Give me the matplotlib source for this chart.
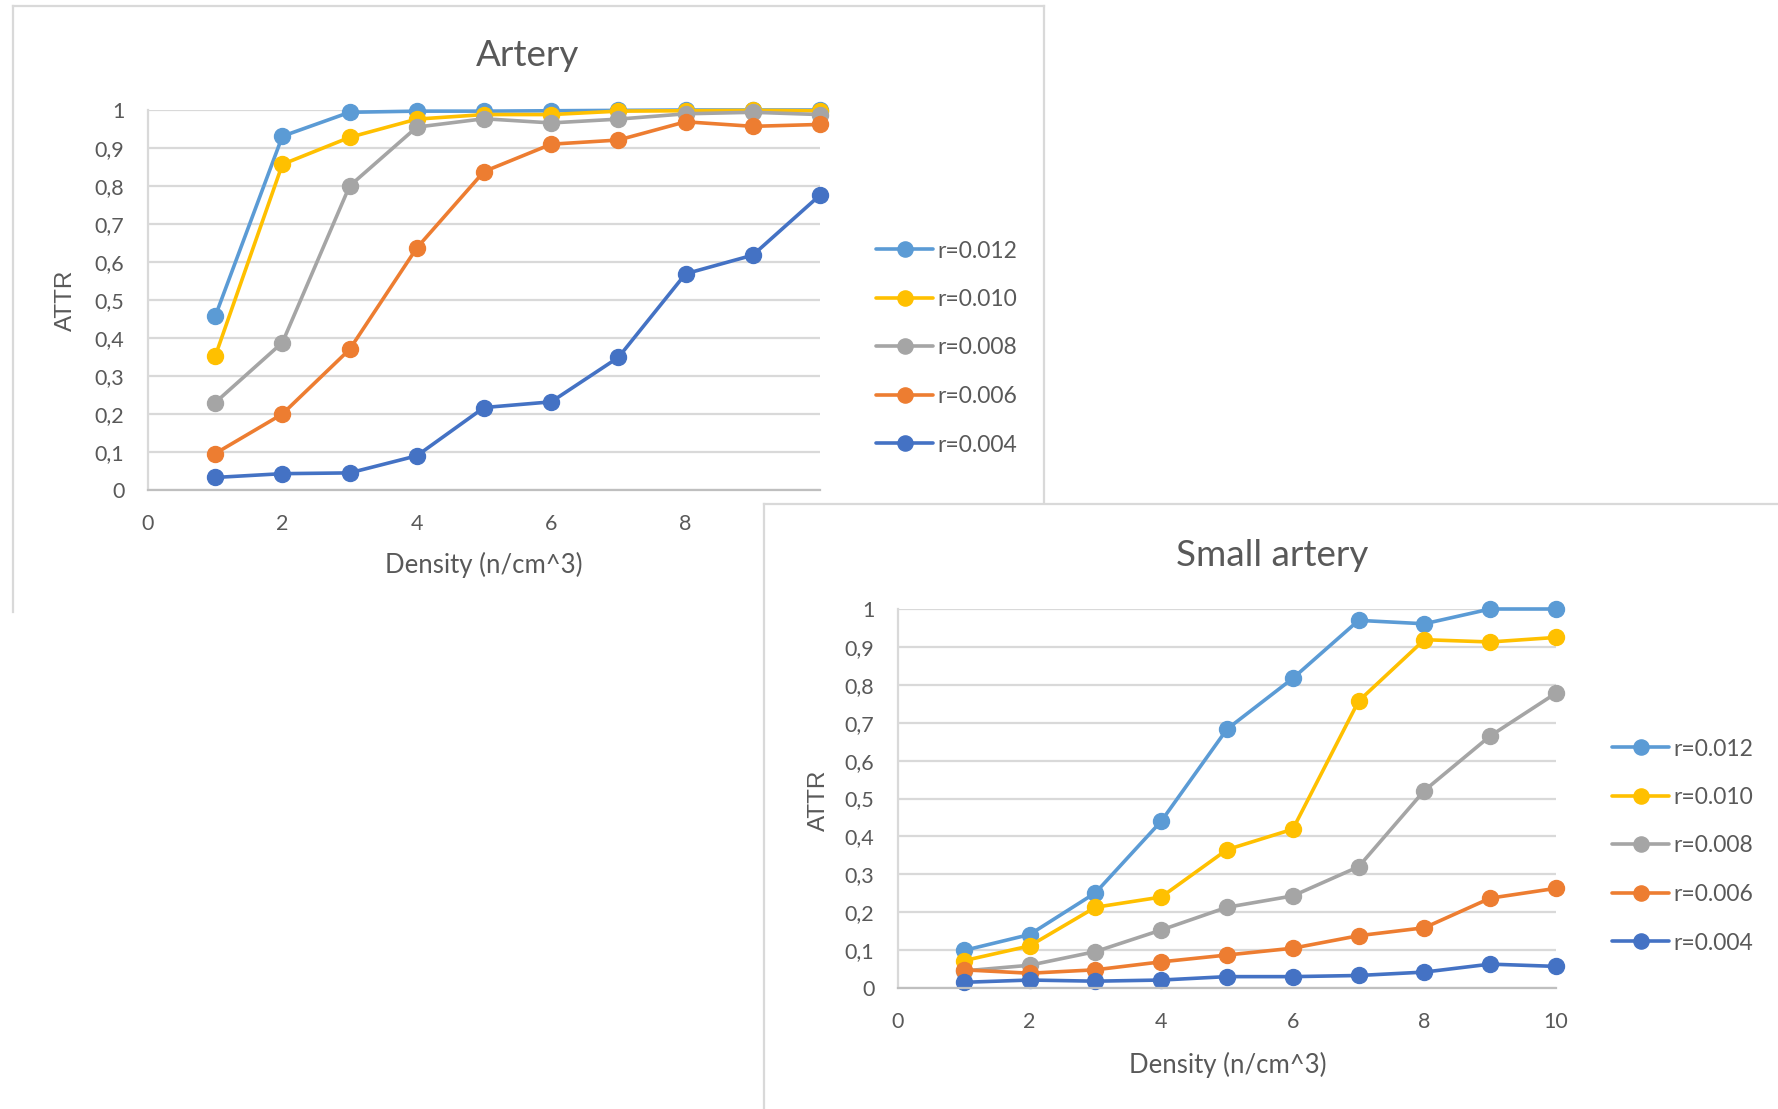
import matplotlib
matplotlib.use('Agg')
import matplotlib.pyplot as plt
from matplotlib.lines import Line2D
from matplotlib.patches import Rectangle
from matplotlib.ticker import FuncFormatter, MultipleLocator

density = [1, 2, 3, 4, 5, 6, 7, 8, 9, 10]
labels = ['r=0.012', 'r=0.010', 'r=0.008', 'r=0.006', 'r=0.004']
colors = ['#5B9BD5', '#FFC000', '#A5A5A5', '#ED7D31', '#4472C4']

# ATTR vs density, artery
artery_012 = [0.457, 0.931, 0.994, 0.997, 0.997, 0.998, 0.999, 1.0, 1.0, 1.0]
artery_010 = [0.352, 0.857, 0.928, 0.976, 0.988, 0.988, 0.997, 0.998, 0.999, 0.998]
artery_008 = [0.23, 0.388, 0.8, 0.955, 0.977, 0.966, 0.976, 0.99, 0.994, 0.988]
artery_006 = [0.096, 0.2, 0.37, 0.637, 0.838, 0.91, 0.921, 0.969, 0.957, 0.962]
artery_004 = [0.033, 0.043, 0.045, 0.09, 0.217, 0.232, 0.349, 0.569, 0.618, 0.776]

# ATTR vs density, small artery
small_012 = [0.099, 0.141, 0.251, 0.44, 0.683, 0.817, 0.97, 0.961, 1.0, 1.0]
small_010 = [0.072, 0.111, 0.213, 0.24, 0.365, 0.419, 0.757, 0.919, 0.913, 0.925]
small_008 = [0.045, 0.06, 0.096, 0.153, 0.213, 0.243, 0.32, 0.521, 0.665, 0.778]
small_006 = [0.048, 0.039, 0.048, 0.069, 0.087, 0.105, 0.138, 0.159, 0.237, 0.263]
small_004 = [0.015, 0.021, 0.018, 0.021, 0.03, 0.03, 0.033, 0.042, 0.063, 0.057]

W, H = 1778, 1109
FONT = 'Lato'
TXT = '#595959'

fig = plt.figure(figsize=(W / 100, H / 100), dpi=100)


def fx(px):
    return px / W


def fy(py):
    return 1 - py / H


def comma(v, pos):
    return ('%g' % round(v, 2)).replace('.', ',')


def draw_chart(rect, series, title, title_xy, xlabel_xy, ylabel_xy, legend_xy, z):
    ax = fig.add_axes(rect, zorder=z)
    for vals, lab, col in zip(series, labels, colors):
        ax.plot(density, vals, color=col, lw=2.6, marker='o', ms=11.5,
                label=lab, clip_on=False, solid_capstyle='round')
    ax.set_xlim(0, 10)
    ax.set_ylim(0, 1)
    ax.xaxis.set_major_locator(MultipleLocator(2))
    ax.yaxis.set_major_locator(MultipleLocator(0.1))
    ax.yaxis.set_major_formatter(FuncFormatter(comma))
    ax.grid(axis='y', color='#D9D9D9', lw=1.6)
    ax.set_axisbelow(True)
    for s in ['top', 'right']:
        ax.spines[s].set_visible(False)
    ax.spines['left'].set_color('#D9D9D9')
    ax.spines['left'].set_linewidth(1.6)
    ax.spines['bottom'].set_color('#BFBFBF')
    ax.spines['bottom'].set_linewidth(1.6)
    ax.tick_params(length=0, pad=17, labelsize=15.5, labelcolor=TXT)
    for t in ax.get_xticklabels() + ax.get_yticklabels():
        t.set_family(FONT)
    fig.text(fx(title_xy[0]), fy(title_xy[1]), title, ha='center', va='baseline',
             fontsize=26.5, color=TXT, family=FONT, zorder=z)
    fig.text(fx(xlabel_xy[0]), fy(xlabel_xy[1]), 'Density (n/cm^3)', ha='center',
             va='baseline', fontsize=18.5, color=TXT, family=FONT, zorder=z)
    fig.text(fx(ylabel_xy[0]), fy(ylabel_xy[1]), 'ATTR', ha='center', va='center',
             rotation=90, fontsize=17.5, color=TXT, family='Liberation Sans', zorder=z)
    leg = ax.legend(loc='center left', bbox_to_anchor=(fx(legend_xy[0]), fy(legend_xy[1])),
                    bbox_transform=fig.transFigure, frameon=False, fontsize=16.5,
                    handlelength=2.45, handletextpad=0.2, labelspacing=1.2,
                    borderpad=0, markerscale=0.95)
    for t in leg.get_texts():
        t.set_color(TXT)
        t.set_family(FONT)
    return ax


# Artery chart
draw_chart([fx(148), fy(490), fx(820) - fx(148), fy(110) - fy(490)],
           [artery_012, artery_010, artery_008, artery_006, artery_004],
           'Artery', (528, 66), (484, 573), (66, 300), (865, 348), 1)
for seg in [((13, 13), (6, 612)), ((13, 1044), (6, 6)), ((1044, 1044), (6, 504))]:
    fig.add_artist(Line2D([fx(v) for v in seg[0]], [fy(v) for v in seg[1]],
                          color='#D9D9D9', lw=1.6, zorder=2))

# white card behind the small artery chart
fig.add_artist(Rectangle((fx(764), 0), 1 - fx(764), fy(504), transform=fig.transFigure,
                         facecolor='white', edgecolor='none', zorder=3))
for seg in [((764, 764), (504, 1109)), ((764, 1778), (504, 504))]:
    fig.add_artist(Line2D([fx(v) for v in seg[0]], [fy(v) for v in seg[1]],
                          color='#D9D9D9', lw=1.6, zorder=3.5))

# Small artery chart
draw_chart([fx(898), fy(988), fx(1556) - fx(898), fy(609) - fy(988)],
           [small_012, small_010, small_008, small_006, small_004],
           'Small artery', (1272, 566), (1228, 1073), (819, 800), (1601, 846), 4)

fig.savefig('out.png', dpi=100)
